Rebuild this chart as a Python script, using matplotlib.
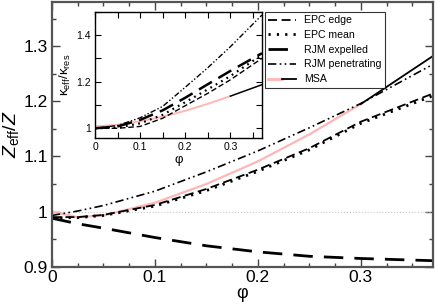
import matplotlib
matplotlib.use("Agg")
import matplotlib.pyplot as plt
from matplotlib.ticker import MultipleLocator, FuncFormatter
from matplotlib.legend_handler import HandlerTuple
from matplotlib.lines import Line2D

plt.rcParams['font.family'] = ['Liberation Sans', 'DejaVu Sans']
plt.rcParams['mathtext.fontset'] = 'custom'
plt.rcParams['mathtext.rm'] = 'Liberation Sans'
plt.rcParams['mathtext.it'] = 'Liberation Sans:italic'

# main panel: Z_eff/Z vs phi
phi = [0, 0.025, 0.05, 0.1, 0.15, 0.2, 0.25, 0.3, 0.37]
epc_edge = [0.990, 0.990, 0.994, 1.012, 1.041, 1.076, 1.115, 1.163, 1.214]
epc_mean = [0.989, 0.989, 0.993, 1.010, 1.038, 1.073, 1.112, 1.160, 1.210]
rjm_exp = [0.988, 0.978, 0.970, 0.953, 0.938, 0.927, 0.919, 0.915, 0.911]
rjm_pen = [0.993, 1.001, 1.011, 1.037, 1.072, 1.110, 1.152, 1.196, 1.267]
phi_msa = [0, 0.025, 0.05, 0.1, 0.15, 0.2, 0.25, 0.3]
msa_pink = [1.000, 0.990, 0.993, 1.016, 1.050, 1.091, 1.140, 1.195]
phi_msa2 = [0.3, 0.37]
msa_black = [1.195, 1.282]

# inset: kappa_eff/kappa_res vs phi
phi_in = [0, 0.05, 0.1, 0.15, 0.2, 0.25, 0.3, 0.37]
k_edge = [1.000, 1.000, 1.008, 1.043, 1.097, 1.150, 1.208, 1.300]
k_mean = [1.000, 1.003, 1.021, 1.058, 1.112, 1.167, 1.224, 1.315]
k_exp = [1.000, 1.008, 1.036, 1.077, 1.131, 1.189, 1.246, 1.322]
k_pen = [1.000, 1.012, 1.045, 1.094, 1.176, 1.260, 1.350, 1.486]
phi_kmsa = [0, 0.05, 0.1, 0.15, 0.2, 0.25, 0.3]
k_msa_pink = [1.008, 1.015, 1.030, 1.050, 1.075, 1.105, 1.138]
phi_kmsa2 = [0.3, 0.37]
k_msa_black = [1.138, 1.187]

pink = '#ffb6b6'
st_edge = dict(color='k', lw=1.3, dashes=(5, 2.5))
st_mean = dict(color='k', lw=2.0, dashes=(0.8, 2.2))
st_exp = dict(color='k', lw=2.0, dashes=(7, 4))
st_pen = dict(color='k', lw=1.2, dashes=(5, 2, 1, 2, 1, 2))

fig = plt.figure(figsize=(4.36, 3.04), dpi=100)
ax = fig.add_axes([0.119, 0.1225, 0.874, 0.871])

ax.axhline(1.0, color='#c8c8c8', lw=0.8, ls=':')
ax.plot(phi_msa, msa_pink, color=pink, lw=1.6)
ax.plot(phi_msa2, msa_black, color='k', lw=1.3)
ax.plot(phi, epc_edge, **st_edge)
ax.plot(phi, epc_mean, **st_mean)
ax.plot(phi, rjm_exp, **st_exp)
ax.plot(phi, rjm_pen, **st_pen)

ax.set_xlim(0, 0.37)
ax.set_ylim(0.9, 1.38)
ax.xaxis.set_major_locator(MultipleLocator(0.1))
ax.xaxis.set_minor_locator(MultipleLocator(0.025))
ax.yaxis.set_major_locator(MultipleLocator(0.1))
ax.yaxis.set_minor_locator(MultipleLocator(0.05))
fmt = FuncFormatter(lambda v, p: '%g' % round(v, 3))
ax.xaxis.set_major_formatter(fmt)
ax.yaxis.set_major_formatter(fmt)
ax.tick_params(which='both', direction='in', top=True, right=True,
               labelsize=12.5, color='#444444')
ax.tick_params(which='major', length=6, width=1.0)
ax.tick_params(which='minor', length=3, width=1.0)
ax.tick_params(axis='x', pad=2)
ax.tick_params(axis='y', pad=3)
for s in ax.spines.values():
    s.set_linewidth(1.6)
    s.set_color('#555555')
ax.set_xlabel('φ', fontsize=13, labelpad=0)
ax.set_ylabel(r'$Z_{\rm eff}/Z$', fontsize=14, labelpad=2)

# legend
h_msa = (Line2D([], [], color=pink, lw=2.0), Line2D([], [], color='k', lw=1.3))
handles = [Line2D([], [], **st_edge), Line2D([], [], **st_mean),
           Line2D([], [], **st_exp), Line2D([], [], **st_pen), h_msa]
labels = ['EPC edge', 'EPC mean', 'RJM expelled', 'RJM penetrating', 'MSA']
leg = fig.legend(handles, labels, loc='upper left', bbox_to_anchor=(0.607, 0.962),
                 fontsize=7.6, frameon=True, fancybox=False, edgecolor='k',
                 handlelength=2.6, handletextpad=0.8, labelspacing=0.45,
                 borderpad=0.35, borderaxespad=0,
                 handler_map={tuple: HandlerTuple(ndivide=None, pad=0)})
leg.get_frame().set_linewidth(0.8)

# inset
ins = fig.add_axes([0.2179, 0.545, 0.383, 0.4165])
ins.plot(phi_kmsa, k_msa_pink, color=pink, lw=1.4)
ins.plot(phi_kmsa2, k_msa_black, color='k', lw=1.1)
ins.plot(phi_in, k_edge, color='k', lw=1.0, dashes=(4, 2))
ins.plot(phi_in, k_mean, color='k', lw=1.6, dashes=(0.8, 2.0))
ins.plot(phi_in, k_exp, color='k', lw=1.8, dashes=(6, 3))
ins.plot(phi_in, k_pen, color='k', lw=1.0, dashes=(4, 1.5, 1, 1.5, 1, 1.5))
ins.set_xlim(0, 0.37)
ins.set_ylim(0.957, 1.5)
ins.xaxis.set_major_locator(MultipleLocator(0.1))
ins.xaxis.set_minor_locator(MultipleLocator(0.05))
ins.yaxis.set_major_locator(MultipleLocator(0.2))
ins.yaxis.set_minor_locator(MultipleLocator(0.1))
ins.xaxis.set_major_formatter(fmt)
ins.yaxis.set_major_formatter(fmt)
ins.tick_params(which='both', direction='in', top=True, right=True,
                labelsize=7.5, width=0.8)
ins.tick_params(which='major', length=4)
ins.tick_params(which='minor', length=4)
ins.tick_params(axis='both', pad=3)
for s in ins.spines.values():
    s.set_linewidth(1.0)
ins.set_xlabel('φ', fontsize=9.5, labelpad=1)
ins.set_ylabel(r'κ$_{\rm eff}$/κ$_{\rm res}$', fontsize=9.5, labelpad=2)

fig.savefig('out.png', dpi=100)
